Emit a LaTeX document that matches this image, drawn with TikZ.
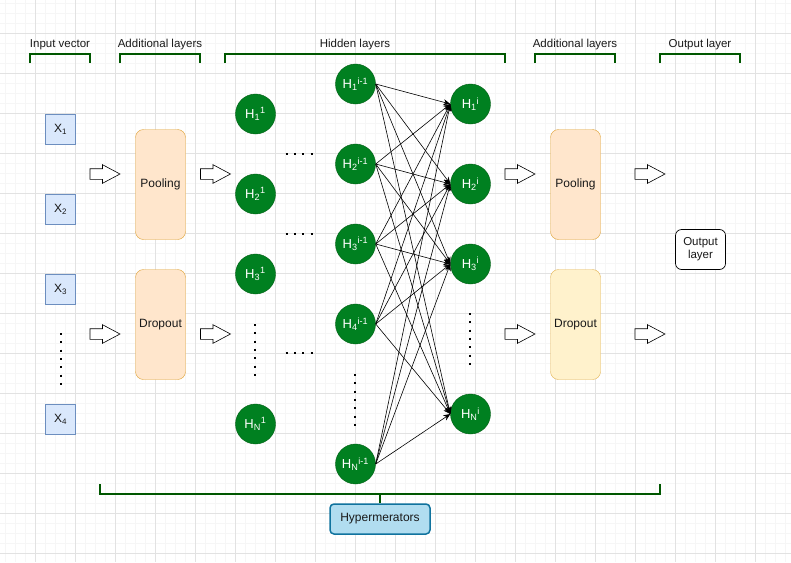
\documentclass[tikz,border=0pt]{standalone}
\usepackage{fontspec}
\setmainfont{Liberation Sans}
\usepackage{tikz}
\usetikzlibrary{calc, positioning, arrows.meta, shapes.arrows}
\definecolor{gridmin}{RGB}{246,246,246}
\definecolor{gridmaj}{RGB}{226,226,226}
\definecolor{brk}{RGB}{0,87,0}
\definecolor{neuron}{RGB}{0,128,32}
\definecolor{neuronline}{RGB}{0,95,20}
\definecolor{inbox}{RGB}{218,232,252}
\definecolor{inline}{RGB}{108,142,191}
\definecolor{orfill}{RGB}{255,230,204}
\definecolor{orline}{RGB}{222,160,50}
\definecolor{yefill}{RGB}{255,242,204}
\definecolor{yeline}{RGB}{226,178,80}
\definecolor{hypfill}{RGB}{177,221,240}
\definecolor{hypline}{RGB}{16,115,158}
\definecolor{txt}{RGB}{25,25,25}

\begin{document}
\begin{tikzpicture}
              [x=1pt, y=-1pt, font=\fontsize{11.5}{13}\selectfont, text=txt,
               neuron/.style={circle, fill=neuron, draw=neuronline, minimum size=40pt, inner sep=0pt, text=white, font=\fontsize{13}{15}\selectfont},
               xbox/.style={rectangle, fill=inbox, draw=inline, minimum size=30pt, inner sep=0pt, font=\fontsize{12}{14}\selectfont},
               layerbox/.style={rectangle, rounded corners=8pt, minimum width=50pt, minimum height=110pt, inner sep=0pt, font=\fontsize{12}{14}\selectfont},
               blockarrow/.style={single arrow, draw=black, fill=white, line width=0.6pt, minimum height=30pt, minimum width=18pt, inner xsep=0pt, inner ysep=5pt, single arrow head extend=4pt, single arrow tip angle=56},
               bracket/.style={draw=brk, line width=2pt},
               dotline/.style={line width=2pt, dash pattern=on 2pt off 6.3pt},
               link/.style={-{Stealth[length=7pt, width=6pt]}, line width=0.6pt}]
              \useasboundingbox (0,0) rectangle (791,562);

              % grid %
              \foreach \i in {0,...,79} \draw[gridmin, line width=0.5pt] (\i*10+5,0) -- (\i*10+5,562);
              \foreach \j in {0,...,56} \draw[gridmin, line width=0.5pt] (0,\j*10+3) -- (791,\j*10+3);
              \foreach \i in {0,...,19} \draw[gridmaj, line width=0.6pt] (\i*40+35,0) -- (\i*40+35,562);
              \foreach \j in {0,...,13} \draw[gridmaj, line width=0.6pt] (0,\j*40+33) -- (791,\j*40+33);

              % brackets %
              \foreach \l/\r/\m/\name/\txt in {30/90/60/inp/Input vector, 120/200/160/addl/Additional layers,
                225/505/355/hid/Hidden layers, 535/615/575/addr/Additional layers, 660/740/700/outl/Output layer}{
                \draw[bracket] (\l,63) -- (\l,54) -- (\r,54) -- (\r,63);
                \node (lbl\name) at (\m,45) {\txt};
              }

              % input vector %
              \node[xbox] (x1) at (60.5,129.5) {X\textsubscript{1}};
              \node[xbox] (x2) at (60.5,209.5) {X\textsubscript{2}};
              \node[xbox] (x3) at (60.5,289.5) {X\textsubscript{3}};
              \node[xbox] (x4) at (60.5,419.5) {X\textsubscript{4}};
              \draw[dotline] (60.5,333) -- (60.5,385);

              % additional layers %
              \node[layerbox, fill=orfill, draw=orline] (pool1) at (160.5,184.5) {Pooling};
              \node[layerbox, fill=orfill, draw=orline] (drop1) at (160.5,324.5) {Dropout};
              \node[layerbox, fill=orfill, draw=orline] (pool2) at (575.5,184.5) {Pooling};
              \node[layerbox, fill=yefill, draw=yeline] (drop2) at (575.5,324.5) {Dropout};

              % block arrows %
              \node[blockarrow] (ar1) at (100,174) {};
              \node[blockarrow] (ar2) at (100,334) {};
              \node[blockarrow] (ar3) at (210.5,174) {};
              \node[blockarrow] (ar4) at (210.5,334) {};
              \node[blockarrow] (ar5) at (515,174) {};
              \node[blockarrow] (ar6) at (515,334) {};
              \node[blockarrow] (ar7) at (645,174) {};
              \node[blockarrow] (ar8) at (645,334) {};

              % hidden layers %
              \node[neuron] (f1) at (255.5,114) {H\textsubscript{1}\textsuperscript{1}};
              \node[neuron] (f2) at (255.5,194) {H\textsubscript{2}\textsuperscript{1}};
              \node[neuron] (f3) at (255.5,274) {H\textsubscript{3}\textsuperscript{1}};
              \node[neuron] (fN) at (255.5,424) {H\textsubscript{N}\textsuperscript{1}};
              \draw[dotline] (254.5,324) -- (254.5,376);

              \draw[dotline] (285.7,154) -- (312.6,154);
              \draw[dotline] (285.7,234) -- (312.6,234);
              \draw[dotline] (285.7,353) -- (312.6,353);

              \node[neuron] (p1) at (355.5,84) {H\textsubscript{1}\textsuperscript{i-1}};
              \node[neuron] (p2) at (355.5,164) {H\textsubscript{2}\textsuperscript{i-1}};
              \node[neuron] (p3) at (355.5,244) {H\textsubscript{3}\textsuperscript{i-1}};
              \node[neuron] (p4) at (355.5,324) {H\textsubscript{4}\textsuperscript{i-1}};
              \node[neuron] (pN) at (355.5,464) {H\textsubscript{N}\textsuperscript{i-1}};
              \draw[dotline] (354.5,374) -- (354.5,426);

              \node[neuron] (c1) at (470.5,104) {H\textsubscript{1}\textsuperscript{i}};
              \node[neuron] (c2) at (470.5,184) {H\textsubscript{2}\textsuperscript{i}};
              \node[neuron] (c3) at (470.5,264) {H\textsubscript{3}\textsuperscript{i}};
              \node[neuron] (cN) at (470.5,414) {H\textsubscript{N}\textsuperscript{i}};
              \draw[dotline] (469.5,313) -- (469.5,365);

              % edges %
              \foreach \a in {1,2,3,4,N}
                \foreach \b in {1,2,3,N}
                  \draw[link] (p\a.east) -- (c\b.west);

              % output layer %
              \node[rectangle, rounded corners=6pt, draw=black, fill=white, line width=0.7pt, minimum width=50pt, minimum height=40pt, inner sep=0pt, align=center, font=\fontsize{11.5}{13}\selectfont] (out) at (700.5,249.5) {Output\\layer};

              % hyperparameters %
              \node[rectangle, rounded corners=4pt, fill=hypfill, draw=hypline, line width=1.5pt, minimum width=100pt, minimum height=30pt, inner sep=0pt, font=\fontsize{12}{14}\selectfont] (hyp) at (380,519) {Hypermerators};
              \coordinate (hbl) at (100,484);
              \coordinate (hbr) at (660,484);
              \draw[bracket] (hbl) -- ++(0,10) -| (hbr);
              \coordinate (hmid) at (380,494);
              \draw[bracket] (hmid) -- (hyp.north);
            \end{tikzpicture}
\end{document}
